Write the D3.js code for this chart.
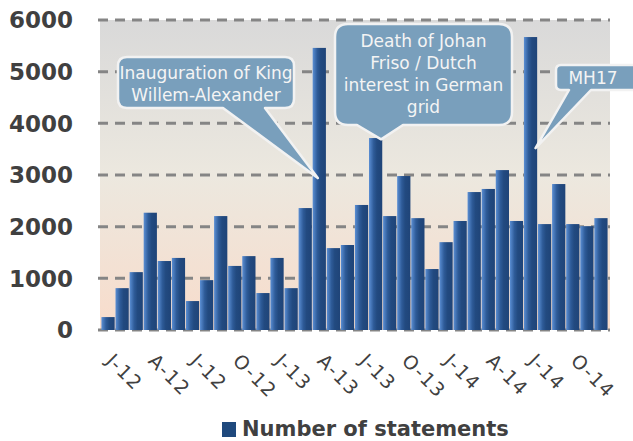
<!DOCTYPE html>
<html><head><meta charset="utf-8">
<script src="https://cdn.jsdelivr.net/npm/d3@7"></script>
<style>
html,body{margin:0;padding:0;background:#fff;}
svg{display:block;}
</style></head>
<body>
<svg id="chart" width="633" height="441"></svg>
<script>
// ---- data ----
const months = ["Jan-12","Feb-12","Mar-12","Apr-12","May-12","Jun-12","Jul-12","Aug-12","Sep-12","Oct-12","Nov-12","Dec-12",
  "Jan-13","Feb-13","Mar-13","Apr-13","May-13","Jun-13","Jul-13","Aug-13","Sep-13","Oct-13","Nov-13","Dec-13",
  "Jan-14","Feb-14","Mar-14","Apr-14","May-14","Jun-14","Jul-14","Aug-14","Sep-14","Oct-14","Nov-14","Dec-14"];
const statements = [
  250,810,1120,2270,1335,1395,560,965,2205,1240,1430,715,
  1395,810,2360,5460,1585,1645,2420,3715,2205,2980,2165,1180,
  1700,2110,2670,2730,3095,2110,5670,2050,2825,2050,2010,2165];
const tickMonths = ["Jan-12","Apr-12","Jul-12","Oct-12","Jan-13","Apr-13","Jul-13","Oct-13","Jan-14","Apr-14","Jul-14","Oct-14"];
const tickLabels = ["J-12","A-12","J-12","O-12","J-13","A-13","J-13","O-13","J-14","A-14","J-14","O-14"];
const yTicks = [0,1000,2000,3000,4000,5000,6000];
const seriesName = "Number of statements";
const callouts = [
  {lines:["Inauguration of King","Willem-Alexander"], month:"Apr-13", value:2940},
  {lines:["Death of Johan","Friso / Dutch","interest in German","grid"], month:"Aug-13", value:3690},
  {lines:["MH17"], month:"Jul-14", value:3520}
];
</script>
<script>
const svg = d3.select("#chart");
const L = 100, R = 610, T = 20, B = 330;

const x = d3.scaleBand().domain(months).range([101, 608]).paddingInner(0.06).paddingOuter(0.03);
const y = d3.scaleLinear().domain([0, 6000]).range([B, T]);

const defs = svg.append("defs");
const bg = defs.append("linearGradient").attr("id","bg").attr("x1",0).attr("y1",0).attr("x2",0).attr("y2",1);
bg.append("stop").attr("offset","0%").attr("stop-color","#d9d9d9");
bg.append("stop").attr("offset","50%").attr("stop-color","#ece8df");
bg.append("stop").attr("offset","100%").attr("stop-color","#f8dccb");
const bg2 = defs.append("linearGradient").attr("id","bar").attr("x1",0).attr("y1",0).attr("x2",1).attr("y2",0);
bg2.append("stop").attr("offset","0%").attr("stop-color","#5b8fd4");
bg2.append("stop").attr("offset","35%").attr("stop-color","#2e5b98");
bg2.append("stop").attr("offset","60%").attr("stop-color","#224a80");
bg2.append("stop").attr("offset","100%").attr("stop-color","#1f4478");

svg.append("rect").attr("x",L).attr("y",T).attr("width",R-L).attr("height",B-T).attr("fill","url(#bg)");

// gridlines
svg.append("g").selectAll("line").data(yTicks).join("line")
  .attr("x1",98).attr("x2",R).attr("y1",d=>y(d)).attr("y2",d=>y(d))
  .attr("stroke","#858585").attr("stroke-width",3).attr("stroke-dasharray","10,7");

// y labels
svg.append("g").selectAll("text").data(yTicks).join("text")
  .attr("x",73).attr("y",d=>y(d)).attr("dy","0.36em").attr("text-anchor","end")
  .attr("font-family","DejaVu Sans, sans-serif").attr("font-weight","bold").attr("font-size",23)
  .attr("fill","#404040").text(d=>d);

// bars
svg.append("g").selectAll("rect").data(months.map((m,i)=>({m, v:statements[i]}))).join("rect")
  .attr("x",d=>x(d.m)).attr("width",x.bandwidth())
  .attr("y",d=>y(d.v)).attr("height",d=>y(0)-y(d.v))
  .attr("fill","url(#bar)");

// x labels
svg.append("g").selectAll("text").data(tickMonths).join("text")
  .attr("transform",d=>`translate(${x(d)+x.bandwidth()/2-3},362) rotate(45)`)
  .attr("font-family","DejaVu Sans, sans-serif").attr("font-size",19).attr("letter-spacing",1.5)
  .attr("fill","#404040").text((d,i)=>tickLabels[i]);

// legend
svg.append("rect").attr("x",222).attr("y",422).attr("width",14).attr("height",15).attr("fill","#1f497d");
svg.append("text").attr("x",242).attr("y",436).attr("font-family","DejaVu Sans, sans-serif")
  .attr("font-weight","bold").attr("font-size",21).attr("fill","#404040").text(seriesName);

// callouts
function calloutPath(bx, by, bw, bh, r, b1, b2, tx, ty){
  return `M${bx+r},${by} H${bx+bw-r} Q${bx+bw},${by} ${bx+bw},${by+r} V${by+bh-r} Q${bx+bw},${by+bh} ${bx+bw-r},${by+bh}`+
    ` H${b2} L${tx},${ty} L${b1},${by+bh} H${bx+r} Q${bx},${by+bh} ${bx},${by+bh-r} V${by+r} Q${bx},${by} ${bx+r},${by} Z`;
}
const boxes = [
  {bx:118, by:57, bw:176, bh:51, r:9, b1:223, b2:265, dx:-1.5, lh:22, ty0:79},
  {bx:335, by:24, bw:177, bh:101, r:13, b1:357, b2:403, dx:+5.5, lh:22, ty0:47},
  {bx:556, by:65, bw:90, bh:25, r:5, b1:569, b2:591, dx:+5, lh:22, ty0:84}
];
callouts.forEach((c,i)=>{
  const b = boxes[i];
  const tx = x(c.month)+x.bandwidth()/2 + b.dx, ty = y(c.value);
  svg.append("path").attr("d",calloutPath(b.bx,b.by,b.bw,b.bh,b.r,b.b1,b.b2,tx,ty))
    .attr("fill","#799fbc").attr("stroke","#f2f2f2").attr("stroke-width",2.5).attr("stroke-linejoin","round");
  const cx = i===2 ? 593 : b.bx + b.bw/2;
  svg.append("g").selectAll("text").data(c.lines).join("text")
    .attr("x",cx).attr("y",(d,j)=>b.ty0 + j*b.lh).attr("text-anchor","middle")
    .attr("font-family","DejaVu Sans, sans-serif").attr("font-size",17).attr("fill","#f4f4f4").text(d=>d);
});
</script>
</body></html>
